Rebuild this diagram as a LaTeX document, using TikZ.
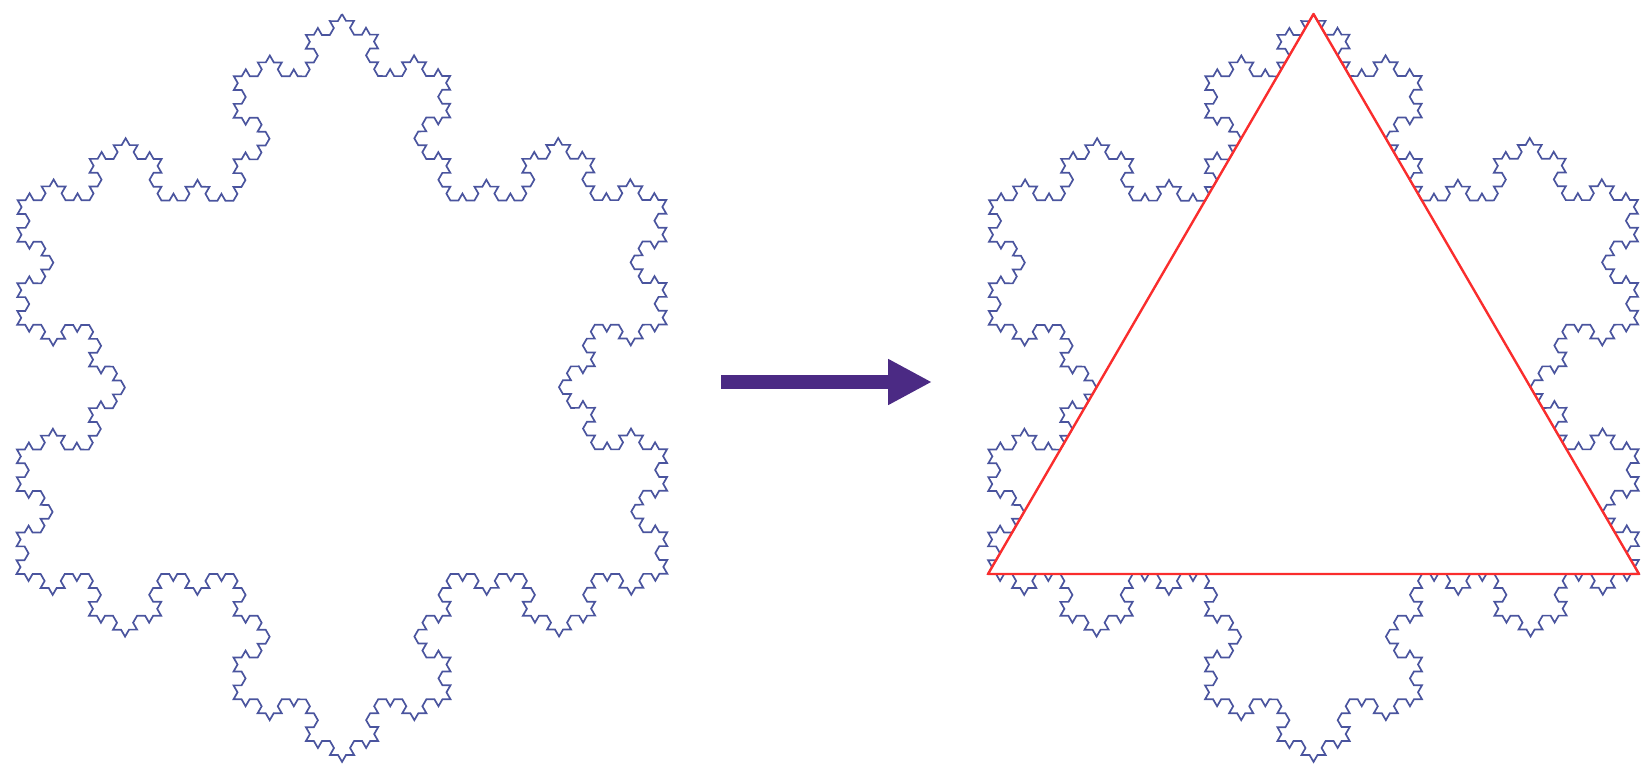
\documentclass[tikz,border=0pt]{standalone}
\usepackage{tikz}
\usetikzlibrary{arrows.meta, decorations.fractals}
\definecolor{flakeblue}{RGB}{74,84,158}
\definecolor{trired}{RGB}{250,45,45}
\definecolor{arrowpurple}{RGB}{75,42,132}

\tikzset{
  flake/.style={draw=flakeblue, line width=1.7pt, line join=miter, decoration=Koch snowflake},
  tri/.style={draw=trired, line width=2.4pt, line join=round}
}

\begin{document}
\begin{tikzpicture}[x=1pt, y=1pt]
  \useasboundingbox (0,0) rectangle (1648,764);

  %% Left snowflake
  \coordinate (ltop) at (342,750);
  \coordinate (lright) at (667.5,190);
  \coordinate (lleft) at (16.5,190);
  \path[flake] decorate{decorate{decorate{decorate{(ltop) -- (lright) -- (lleft) -- (ltop)}}}};

  %% Arrow
  \coordinate (arrowstart) at (721,382);
  \coordinate (arrowend) at (932,382);
  \draw[arrowpurple, line width=14pt, -{Triangle[length=44pt, width=43pt]}] (arrowstart) -- (arrowend);

  %% Right snowflake with triangle
  \coordinate (rtop) at (1313.5,750);
  \coordinate (rright) at (1639,190);
  \coordinate (rleft) at (988,190);
  \path[flake] decorate{decorate{decorate{decorate{(rtop) -- (rright) -- (rleft) -- (rtop)}}}};
  \draw[tri] (rtop) -- (rright) -- (rleft) -- cycle;
\end{tikzpicture}
\end{document}
